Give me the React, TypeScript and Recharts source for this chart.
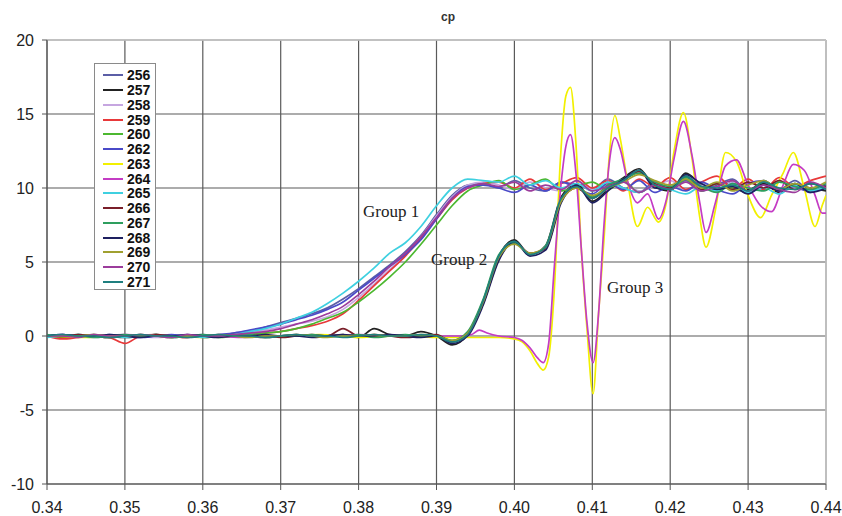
import React from 'react';
import { LineChart, Line, XAxis, YAxis, CartesianGrid, Legend, ReferenceLine } from 'recharts';

// time base for groups 1 & 2
const X_COARSE = [0.340,0.342,0.344,0.346,0.348,0.350,0.352,0.354,0.356,0.358,0.360,0.362,0.364,0.366,0.368,0.370,0.372,0.374,0.376,0.378,0.380,0.382,0.384,0.386,0.388,0.390,0.392,0.394,0.396,0.398,0.400,0.402,0.404,0.406,0.408,0.410,0.412,0.414,0.416,0.418,0.420,0.422,0.424,0.426,0.428,0.430,0.432,0.434,0.436,0.438,0.440];
// time base for group 3
const X_FINE = [0.340,0.345,0.350,0.355,0.360,0.365,0.370,0.375,0.380,0.385,0.390,0.393,0.3945,0.3955,0.3965,0.398,0.400,0.401,0.402,0.403,0.4037,0.4044,0.4051,0.4059,0.4066,0.4072,0.4079,0.4086,0.4093,0.4101,0.4108,0.4115,0.4122,0.4129,0.4136,0.4145,0.4158,0.4171,0.4185,0.4195,0.4205,0.4217,0.4228,0.4238,0.4246,0.4258,0.4271,0.4285,0.4300,0.4316,0.4330,0.4345,0.4358,0.4372,0.4386,0.4395,0.4400];

const X_TICKS = [0.34,0.35,0.36,0.37,0.38,0.39,0.40,0.41,0.42,0.43,0.44];
const Y_TICKS = [-10,-5,0,5,10,15,20];

// Group 1
const S256 = [0.0,-0.1,0.1,0.0,-0.1,0.0,0.1,0.0,-0.1,0.0,0.1,0.0, 0.2,0.3,0.6,0.9,1.2,1.5,1.9,2.5,3.2,4.0,4.8,5.7,6.8,8.2,9.5,10.2,10.3, 10.0,10.5,10.0,9.8,10.4,10.2,9.9,10.6,10.0,9.7,10.4,9.9,10.5,9.8,10.2,10.6,9.8,10.4,9.9,10.5,9.8,10.2];
const S258 = [0.0,0.1,0.0,-0.1,0.0,0.1,0.0,-0.1,0.0,0.1,0.0,0.1, 0.1,0.2,0.4,0.6,0.8,1.0,1.3,1.8,2.6,3.5,4.5,5.5,6.7,8.1,9.4,10.2,10.4, 10.2,9.9,10.4,10.0,9.8,10.5,9.9,10.2,10.4,9.8,10.1,10.5,9.9,10.2,9.7,10.4,10.0,9.9,10.5,10.0,9.8,10.3];
const S259 = [0.0,-0.2,-0.1,0.0,-0.1,-0.5,0.0,0.1,0.0,-0.1,0.0,0.0, 0.1,0.1,0.2,0.3,0.5,0.7,1.0,1.5,2.4,3.4,4.4,5.4,6.6,7.9,9.2,10.0,10.3, 10.4,10.0,10.6,9.9,10.3,10.7,10.0,10.5,9.8,10.6,10.1,10.7,9.9,10.4,10.8,10.0,10.6,9.9,10.7,10.1,10.5,10.8];
const S260 = [0.0,0.0,0.1,0.0,-0.1,0.0,0.0,0.1,-0.1,0.0,0.0,-0.1, 0.0,0.1,0.2,0.3,0.5,0.8,1.2,1.6,2.3,3.1,4.0,5.0,6.2,7.5,8.8,9.8,10.2, 10.5,9.9,10.2,10.6,9.8,10.1,10.4,9.9,10.5,9.7,10.2,9.9,10.6,9.8,10.3,10.0,9.7,10.5,9.9,10.3,9.8,10.1];
const S262 = [0.0,0.1,0.0,0.0,0.1,0.0,-0.1,0.0,0.1,0.0,0.0,0.1, 0.2,0.4,0.6,0.8,1.1,1.4,1.8,2.3,3.1,3.9,4.7,5.5,6.5,7.9,9.3,10.1,10.2, 10.0,9.7,10.2,9.8,10.4,10.0,9.6,10.3,9.9,10.5,9.7,10.1,9.8,10.4,9.9,9.6,10.3,10.5,9.8,10.1,9.7,10.2];
const S265 = [-0.1,0.0,0.1,0.0,0.0,-0.1,0.0,0.1,0.0,0.0,-0.1,0.0, 0.1,0.3,0.5,0.8,1.2,1.6,2.2,2.9,3.7,4.6,5.6,6.3,7.4,8.8,10.0,10.6,10.5, 10.4,10.8,10.2,10.5,10.0,10.3,9.8,10.4,10.0,9.7,10.2,9.9,9.6,10.1,9.8,10.3,9.7,10.0,9.6,10.2,9.8,10.1];
const S270 = [0.0,0.0,-0.1,0.1,0.0,0.0,0.1,0.0,-0.1,0.1,0.0,0.0, 0.1,0.2,0.3,0.5,0.8,1.1,1.5,2.0,2.8,3.7,4.7,5.6,6.7,8.0,9.3,10.0,10.3, 10.1,10.4,9.8,10.2,9.9,10.5,9.8,10.1,10.4,9.7,10.2,9.9,10.4,9.8,10.1,10.5,9.8,10.2,9.9,9.7,10.4,10.0];

// Group 2
const S257 = [0.0,-0.1,0.0,0.1,0.0,-0.1,0.0,0.1,0.0,0.0,-0.1,0.0,0.1,0.0,-0.1,0.0,0.1,0.0,0.0,0.1,-0.1,0.5,0.1,0.0,0.3,0.0, -0.6,0.1,2.4,5.4,6.5,5.5,6.1,9.4,10.3,9.1,9.9,10.7,11.3,10.1,9.8,11.0,10.2,9.8,10.4,9.9,10.3,9.7,10.2,10.0,9.8];
const S266 = [0.0,0.0,0.1,0.0,-0.1,0.0,0.0,0.1,0.0,-0.1,0.0,0.0,0.1,0.0,0.0,-0.1,0.0,0.1,0.0,0.5,0.0,0.1,0.0,-0.1,0.0,0.1, -0.4,0.2,2.2,5.2,6.3,5.6,5.9,9.1,10.0,9.3,10.1,10.5,11.1,10.3,10.0,10.8,9.9,10.3,9.9,10.4,10.0,10.5,9.9,10.3,10.1];
const S267 = [0.1,0.0,0.0,-0.1,0.0,0.1,0.0,0.0,-0.1,0.0,0.1,0.0,0.0,0.1,-0.1,0.0,0.0,0.1,0.0,0.0,0.1,-0.1,0.0,0.1,0.0,0.0, -0.3,0.3,2.5,5.5,6.3,5.5,6.1,9.2,10.1,9.4,10.2,10.6,11.0,10.4,10.1,10.7,10.1,9.7,10.3,10.0,9.8,10.4,10.1,9.9,10.3];
const S268 = [0.0,0.1,0.0,0.0,0.1,0.0,-0.1,0.0,0.0,0.1,0.0,-0.1,0.0,0.0,0.1,0.0,0.0,-0.1,0.0,0.1,0.0,0.0,0.1,0.0,-0.1,0.0, -0.5,0.0,2.1,5.1,6.4,5.4,5.8,9.0,10.2,9.0,9.8,10.6,11.2,10.0,9.9,10.9,10.3,9.9,10.1,9.6,10.2,9.8,10.3,9.7,10.0];
const S269 = [0.0,0.0,0.0,0.1,0.0,0.0,0.1,0.0,-0.1,0.0,0.0,0.1,0.0,-0.1,0.0,0.0,0.1,0.0,-0.1,0.0,0.0,0.1,0.0,0.0,0.1,0.0, -0.3,0.2,2.3,5.3,6.2,5.6,6.0,9.1,10.0,9.5,10.0,10.4,10.9,10.5,10.2,10.6,10.0,10.4,9.8,10.2,10.5,9.9,10.3,10.0,10.4];
const S271 = [0.0,0.1,0.0,0.0,-0.1,0.0,0.1,0.0,0.0,-0.1,0.0,0.1,0.0,0.0,-0.1,0.0,0.1,0.0,0.0,-0.1,0.0,0.1,0.0,0.0,0.1,0.0, -0.4,0.1,2.4,5.4,6.4,5.5,6.0,9.3,10.1,9.3,10.0,10.5,11.2,10.2,9.9,10.8,10.1,10.0,10.2,9.8,10.4,10.0,9.9,10.3,9.9];

// Group 3
const S263 = [0.0,-0.1,0.0,0.0,-0.1,0.0,0.0,0.1,-0.1,0.0, -0.1,-0.1,-0.1,-0.1,-0.1,-0.1,-0.2,-0.4,-1.0,-1.9, -2.3,-1.4,2.9,11.9,16.2,16.8,13.0,5.8,0.6,-3.9, 1.5,6.5,12.3,14.9,13.3,10.5,7.4,8.7,7.7,9.0, 12.5,15.1,12.0,8.0,6.0,8.5,12.4,11.8,9.5,8.0, 9.5,11.0,12.4,10.0,7.4,8.8,9.5];
const S264 = [0.0,0.0,0.1,0.0,0.0,-0.1,0.0,0.0,0.1,0.0, 0.0,0.0,0.1,0.4,0.2,0.0,-0.1,-0.3,-0.8,-1.5, -1.8,-0.5,4.5,9.8,12.8,13.6,11.0,5.8,1.0,-1.8, 1.5,7.5,11.8,13.4,12.6,10.5,9.0,9.6,7.9,9.2, 12.0,14.5,12.2,9.0,7.0,9.0,11.5,11.9,10.2,8.8, 8.4,10.2,11.6,11.2,9.5,8.3,8.3];

const SERIES = [
  { name: '256', color: '#5b5ea6', xs: X_COARSE, ys: S256 },
  { name: '257', color: '#222222', xs: X_COARSE, ys: S257 },
  { name: '258', color: '#c6a6e0', xs: X_COARSE, ys: S258 },
  { name: '259', color: '#e8393a', xs: X_COARSE, ys: S259 },
  { name: '260', color: '#4cb830', xs: X_COARSE, ys: S260 },
  { name: '262', color: '#4a4ac8', xs: X_COARSE, ys: S262 },
  { name: '263', color: '#f2f000', xs: X_FINE, ys: S263 },
  { name: '264', color: '#c43cc4', xs: X_FINE, ys: S264 },
  { name: '265', color: '#3fd0e0', xs: X_COARSE, ys: S265 },
  { name: '266', color: '#7a1f2a', xs: X_COARSE, ys: S266 },
  { name: '267', color: '#2e9e5e', xs: X_COARSE, ys: S267 },
  { name: '268', color: '#1e2060', xs: X_COARSE, ys: S268 },
  { name: '269', color: '#a0a030', xs: X_COARSE, ys: S269 },
  { name: '270', color: '#9c3c9c', xs: X_COARSE, ys: S270 },
  { name: '271', color: '#1f7f7f', xs: X_COARSE, ys: S271 },
];

const toData = (xs: number[], ys: number[]) =>
  xs.map((x, i) => ({ x, y: ys[i] })).filter((d) => d.y !== undefined);

const LegendBox = (props: any) => {
  const payload = props.payload || [];
  return (
    <div
      style={{
        border: '1px solid #8a8a8a',
        background: '#fff',
        width: 62,
        height: 227,
        boxSizing: 'border-box',
        paddingTop: 4,
      }}
    >
      {payload.map((p: any) => (
        <div key={p.value} style={{ display: 'flex', alignItems: 'center', height: 14.76 }}>
          <span
            style={{
              display: 'inline-block',
              width: 20,
              height: 2,
              background: p.color,
              marginLeft: 8,
              marginRight: 4,
            }}
          />
          <span
            style={{
              fontFamily: '"Liberation Sans", Arial, sans-serif',
              fontWeight: 'bold',
              fontSize: 14,
              color: '#111',
              lineHeight: '14px',
            }}
          >
            {p.value}
          </span>
        </div>
      ))}
    </div>
  );
};

const tickStyle = { fill: '#222', fontSize: 16, fontFamily: '"Liberation Sans", Arial, sans-serif' };
const labelFont = '"Liberation Serif", "Times New Roman", serif';

export default function App() {
  return (
    <div style={{ position: 'absolute', left: 0, top: 0, width: 842, height: 516, background: '#fff' }}>
      <LineChart width={842} height={516} margin={{ top: 40, right: 16, bottom: 0, left: 0 }}>
        <CartesianGrid stroke="#5a5a5a" strokeWidth={1.2} />
        <XAxis
          dataKey="x"
          type="number"
          domain={[0.34, 0.44]}
          ticks={X_TICKS}
          interval={0}
          allowDataOverflow
          tickFormatter={(v: number) => v.toFixed(2)}
          height={32}
          tickSize={6}
          tickMargin={12}
          stroke="#555"
          tick={tickStyle}
        />
        <YAxis
          type="number"
          domain={[-10, 20]}
          ticks={Y_TICKS}
          interval={0}
          allowDataOverflow
          width={47}
          tickSize={5}
          tickMargin={8}
          stroke="#555"
          tick={tickStyle}
        />
        <ReferenceLine y={20} stroke="#c8c8c8" strokeWidth={1.6} />
        <ReferenceLine x={0.44} stroke="#c8c8c8" strokeWidth={1.6} />
        {SERIES.map((s) => (
          <Line
            key={s.name}
            name={s.name}
            data={toData(s.xs, s.ys)}
            dataKey="y"
            stroke={s.color}
            strokeWidth={1.7}
            dot={false}
            activeDot={false}
            type="monotone"
            isAnimationActive={false}
            legendType="line"
          />
        ))}
        <Legend
          layout="vertical"
          align="center"
          verticalAlign="middle"
          content={(p: any) => <LegendBox {...p} />}
          wrapperStyle={{ left: 94, top: 63, width: 62, height: 227 }}
        />
        <text x={448} y={21} textAnchor="middle" fontSize={12} fontWeight="bold" fill="#333" fontFamily='"Liberation Sans", Arial, sans-serif'>cp</text>
        <text x={363} y={217} fontSize={17} fill="#222" fontFamily={labelFont}>Group 1</text>
        <text x={431} y={265} fontSize={17} fill="#222" fontFamily={labelFont}>Group 2</text>
        <text x={607} y={293} fontSize={17} fill="#222" fontFamily={labelFont}>Group 3</text>
      </LineChart>
    </div>
  );
}
